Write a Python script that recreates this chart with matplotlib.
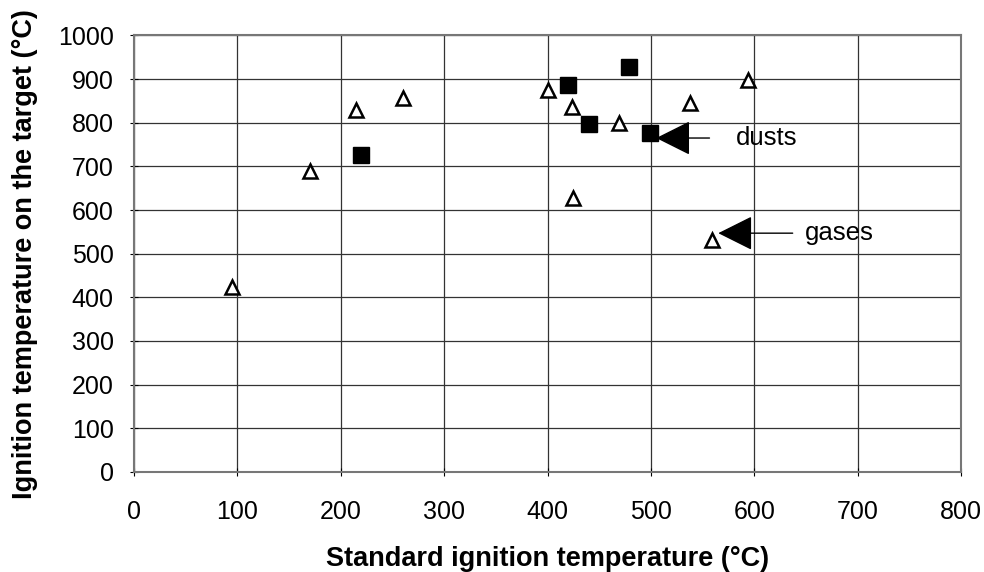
import matplotlib.pyplot as plt

plt.rcParams['font.family'] = ['Liberation Sans', 'DejaVu Sans']

# gases (open triangles)
gas_std = [95, 170, 215, 260, 400, 424, 425, 469, 538, 559, 594]
gas_target = [423, 690, 830, 857, 874, 835, 627, 799, 845, 531, 897]

# dusts (filled squares)
dust_std = [220, 420, 440, 479, 499]
dust_target = [727, 886, 796, 927, 776]

fig = plt.figure(figsize=(9.84, 5.72), dpi=100)
ax = fig.add_axes([0.136, 0.175, 0.841, 0.763])

ax.plot(gas_std, gas_target, linestyle='none', marker='^', markersize=10.5,
        markerfacecolor='white', markeredgecolor='black', markeredgewidth=1.8, zorder=3)
ax.plot(dust_std, dust_target, linestyle='none', marker='s', markersize=11,
        markerfacecolor='black', markeredgecolor='black', zorder=3)

def arrow(gap):
    return dict(arrowstyle='-|>,head_length=22,head_width=11', mutation_scale=1,
                color='black', lw=1, relpos=(0, 0.5), shrinkA=gap, shrinkB=0)

ax.annotate('dusts', xy=(505, 765), xytext=(582, 765), fontsize=18.5,
            va='center', ha='left', arrowprops=arrow(17))
ax.annotate('gases', xy=(565, 547), xytext=(649, 547), fontsize=18.5,
            va='center', ha='left', arrowprops=arrow(7))

ax.set_xlim(0, 800)
ax.set_ylim(0, 1000)
ax.set_xticks(range(0, 801, 100))
ax.set_yticks(range(0, 1001, 100))
ax.grid(True, color='#333333', linewidth=0.9)
ax.tick_params(direction='inout', length=6, labelsize=18)
ax.tick_params(axis='x', pad=17)
ax.tick_params(axis='y', pad=11.5)
for s in ax.spines.values():
    s.set_color('#777777')
    s.set_linewidth(1.5)

ax.set_xlabel('Standard ignition temperature (°C)', fontsize=19.5,
              fontweight='bold', labelpad=16)
ax.set_ylabel('Ignition temperature on the target (°C)', fontsize=19.5,
              fontweight='bold', labelpad=14)

fig.savefig('out.png', dpi=100)
